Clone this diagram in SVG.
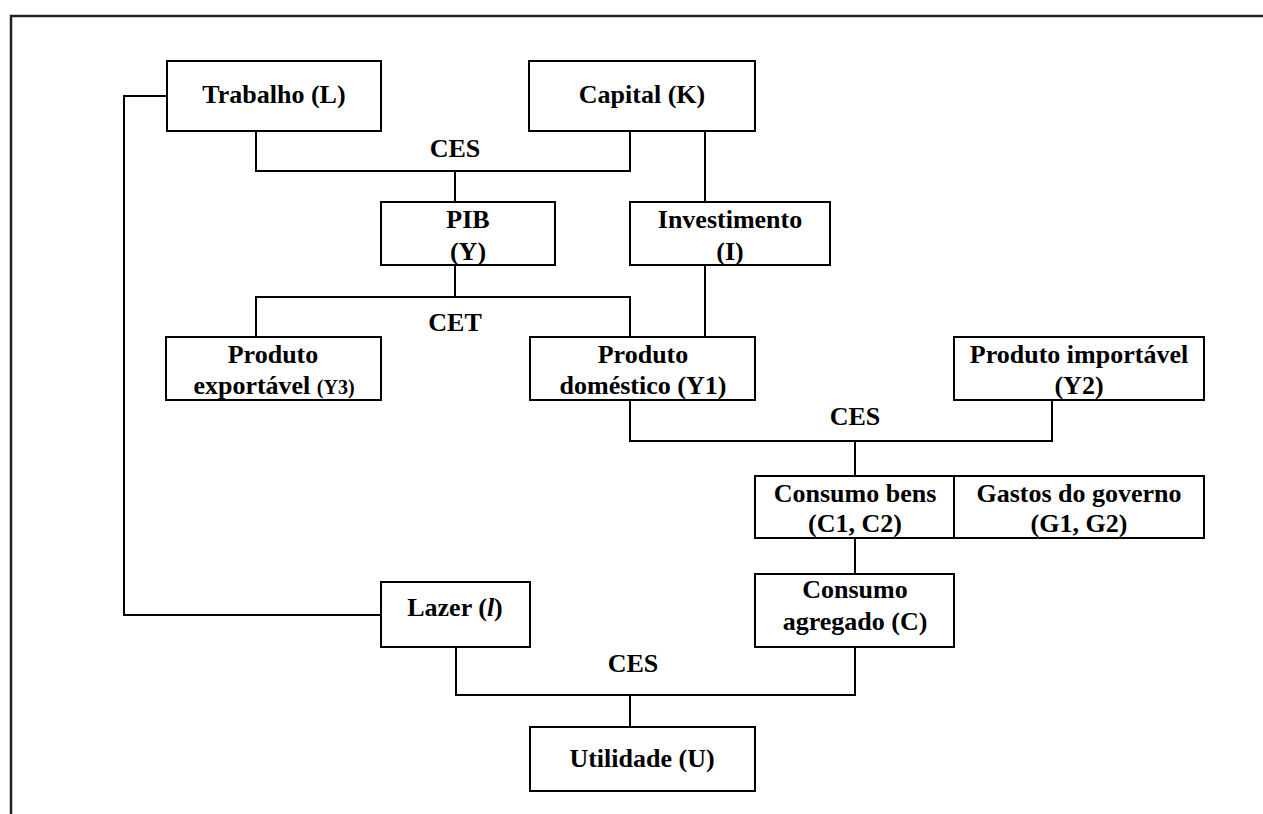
<svg xmlns="http://www.w3.org/2000/svg" width="1263" height="814" viewBox="0 0 1263 814">
<style>
.box{fill:#fff;stroke:#000;stroke-width:2}
.ln{fill:none;stroke:#000;stroke-width:2}
text{font-family:"Liberation Serif","Times New Roman",serif;font-weight:bold;font-size:26px;fill:#000;text-anchor:middle}
.sm{font-size:20px}
</style>
<rect width="1263" height="814" fill="#fff"/>
<g id="frame"><path d="M11 814 V16 H1263" fill="none" stroke="#222" stroke-width="2.5"/></g>
<g id="connectors">
<path class="ln" d="M167 96 H124 V615 H381"/>
<path class="ln" d="M256 131 V171 H630 V131"/>
<path class="ln" d="M455 171 V202"/>
<path class="ln" d="M705 131 V202"/>
<path class="ln" d="M455 265 V297"/>
<path class="ln" d="M256 337 V297 H630 V337"/>
<path class="ln" d="M705 265 V337"/>
<path class="ln" d="M630 400 V441 H1052 V400"/>
<path class="ln" d="M855 441 V476"/>
<path class="ln" d="M855 538 V574"/>
<path class="ln" d="M456 647 V695 H855 V647"/>
<path class="ln" d="M630 695 V727"/>
</g>
<g id="labels">
<text x="455" y="157">CES</text>
<text x="455" y="331">CET</text>
<text x="855" y="425">CES</text>
<text x="633" y="672">CES</text>
</g>
<g id="trabalho"><rect class="box" x="167" y="61" width="214" height="70"/><text x="274" y="103">Trabalho (L)</text></g>
<g id="capital"><rect class="box" x="529" y="61" width="226" height="70"/><text x="642" y="103">Capital (K)</text></g>
<g id="pib"><rect class="box" x="381" y="202" width="174" height="63"/><text x="468" y="228">PIB</text><text x="468" y="260">(Y)</text></g>
<g id="investimento"><rect class="box" x="630" y="202" width="200" height="63"/><text x="730" y="228">Investimento</text><text x="730" y="260">(I)</text></g>
<g id="exportavel"><rect class="box" x="166" y="337" width="215" height="63"/><text x="273" y="363">Produto</text><text x="274" y="394">exportável <tspan class="sm">(Y3)</tspan></text></g>
<g id="domestico"><rect class="box" x="530" y="337" width="225" height="63"/><text x="643" y="363">Produto</text><text x="643" y="394">doméstico (Y1)</text></g>
<g id="importavel"><rect class="box" x="954" y="337" width="250" height="63"/><text x="1079" y="363">Produto importável</text><text x="1079" y="394">(Y2)</text></g>
<g id="consumo-bens"><rect class="box" x="755" y="476" width="199" height="62"/><text x="855" y="502">Consumo bens</text><text x="855" y="532">(C1, C2)</text></g>
<g id="gastos"><rect class="box" x="954" y="476" width="250" height="62"/><text x="1079" y="502">Gastos do governo</text><text x="1079" y="532">(G1, G2)</text></g>
<g id="lazer"><rect class="box" x="381" y="582" width="149" height="65"/><text x="455" y="616">Lazer (<tspan font-style="italic">l</tspan>)</text></g>
<g id="consumo-agregado"><rect class="box" x="755" y="574" width="199" height="73"/><text x="855" y="598">Consumo</text><text x="855" y="630">agregado (C)</text></g>
<g id="utilidade"><rect class="box" x="530" y="727" width="225" height="64"/><text x="642" y="767">Utilidade (U)</text></g>
</svg>
